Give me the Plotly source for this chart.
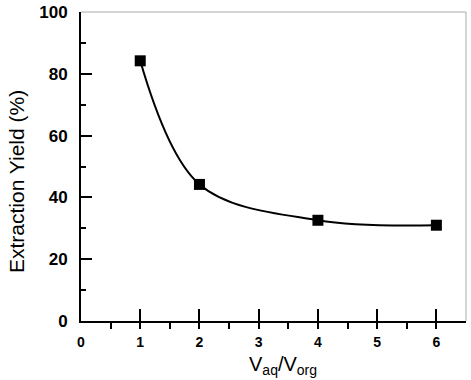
import plotly.graph_objects as go

ratio = [1, 2, 4, 6]
yield_pct = [84.2, 44.2, 32.6, 31.0]
x_ticks = [0, 1, 2, 3, 4, 5, 6]
y_ticks = [0, 20, 40, 60, 80, 100]
x_title = "V<sub>aq</sub>/V<sub>org</sub>"
y_title = "Extraction Yield (%)"

fig = go.Figure()
fig.add_trace(go.Scatter(
    x=ratio, y=yield_pct, mode="lines+markers",
    line=dict(color="black", width=2, shape="spline", smoothing=1.0),
    marker=dict(symbol="square", size=11, color="black"),
    showlegend=False,
))

fig.update_layout(
    width=471, height=380,
    margin=dict(l=81, r=5, t=12, b=59, autoexpand=False),
    paper_bgcolor="white", plot_bgcolor="white",
    font=dict(family="Liberation Sans, Arial", color="black"),
    shapes=[
        dict(type="line", xref="paper", yref="paper", x0=0, x1=1, y0=1, y1=1,
             line=dict(color="#aaaaaa", width=1)),
        dict(type="line", xref="paper", yref="paper", x0=1, x1=1, y0=0, y1=1,
             line=dict(color="#aaaaaa", width=1)),
    ],
    annotations=[
        dict(text=x_title, xref="paper", yref="paper", x=0.525, y=-0.145,
             xanchor="center", yanchor="middle", showarrow=False,
             font=dict(size=20, family="Liberation Sans, Arial", color="black")),
        dict(text=y_title, xref="paper", yref="paper", x=-0.166, y=0.45,
             xanchor="center", yanchor="middle", textangle=-90, showarrow=False,
             font=dict(size=21, family="Liberation Sans, Arial", color="black")),
    ],
)
fig.update_xaxes(
    automargin=False,
    range=[0, 6.5], tickvals=x_ticks, ticktext=[str(v) for v in x_ticks],
    showline=True, linecolor="black", linewidth=2,
    ticks="inside", ticklen=12, tickwidth=2, tickcolor="black",
    minor=dict(ticks="outside", dtick=0.5, tick0=0, ticklen=6, tickwidth=2, tickcolor="black"),
    showgrid=False, zeroline=False,
    tickfont=dict(size=14, family="Liberation Sans, Arial", weight="bold"),
    ticklabelstandoff=7,
)
fig.update_yaxes(
    automargin=False,
    range=[0, 100], tickvals=y_ticks, ticktext=[str(v) for v in y_ticks],
    showline=True, linecolor="black", linewidth=2,
    ticks="inside", ticklen=11, tickwidth=2, tickcolor="black",
    minor=dict(ticks="inside", dtick=10, tick0=0, ticklen=5, tickwidth=2, tickcolor="black"),
    showgrid=False, zeroline=False,
    tickfont=dict(size=17, family="Liberation Sans, Arial", weight="bold"),
    ticklabelstandoff=8, ticklabeloverflow="allow",
)

fig.write_html("out.html", config={"displayModeBar": False},
               post_script="document.body.style.margin='0';")
